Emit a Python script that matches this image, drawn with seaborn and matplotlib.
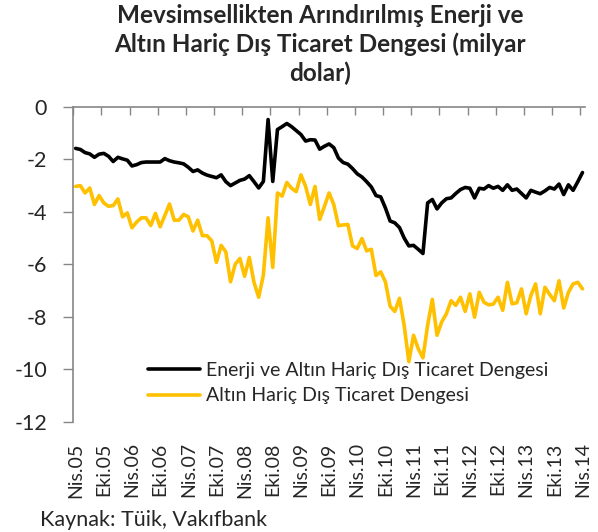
import numpy as np
import pandas as pd
import seaborn as sns
import matplotlib
matplotlib.use("Agg")
import matplotlib.pyplot as plt

# monthly data, Nis.05 - Nis.14 (milyar dolar)
months = pd.period_range("2005-04", "2014-04", freq="M")

enerji_altin_haric = [
    -1.58, -1.62, -1.74, -1.79, -1.92, -1.80, -1.77, -1.88, -2.08, -1.92,
    -1.98, -2.03, -2.25, -2.20, -2.12, -2.10, -2.10, -2.10, -2.10, -1.97,
    -2.05, -2.10, -2.13, -2.17, -2.30, -2.46, -2.40, -2.52, -2.60, -2.65,
    -2.70, -2.59, -2.85, -3.00, -2.90, -2.80, -2.75, -2.62, -2.85, -3.09,
    -2.84, -0.48, -2.84, -0.86, -0.75, -0.63, -0.75, -0.90, -1.05, -1.30,
    -1.25, -1.26, -1.61, -1.50, -1.41, -1.55, -1.95, -2.12, -2.18, -2.35,
    -2.55, -2.67, -2.85, -3.05, -3.38, -3.43, -3.85, -4.35, -4.42, -4.60,
    -5.00, -5.30, -5.28, -5.43, -5.59, -3.66, -3.53, -3.89, -3.66, -3.50,
    -3.47, -3.30, -3.15, -3.07, -3.10, -3.47, -3.10, -3.13, -3.00, -3.10,
    -3.03, -3.18, -2.97, -3.18, -3.13, -3.30, -3.47, -3.18, -3.25, -3.31,
    -3.20, -3.07, -3.13, -2.94, -3.34, -2.97, -3.18, -2.85, -2.50,
]

altin_haric = [
    -3.03, -3.00, -3.28, -3.09, -3.72, -3.38, -3.66, -3.79, -3.76, -3.51,
    -4.19, -4.04, -4.61, -4.39, -4.23, -4.23, -4.52, -4.06, -4.57, -4.14,
    -3.70, -4.32, -4.32, -4.10, -4.19, -4.73, -4.32, -4.91, -4.91, -5.11,
    -5.93, -5.28, -5.53, -6.67, -6.00, -5.78, -6.46, -5.74, -6.69, -7.26,
    -6.41, -4.23, -6.12, -3.28, -3.40, -2.88, -3.10, -3.23, -2.59, -3.03,
    -3.72, -3.03, -4.29, -3.80, -3.28, -3.72, -4.53, -4.50, -4.48, -5.30,
    -5.40, -5.02, -5.49, -5.43, -6.43, -6.29, -6.67, -7.60, -7.80, -7.30,
    -8.33, -9.72, -8.71, -9.22, -9.57, -8.33, -7.34, -8.71, -8.20, -7.89,
    -7.39, -7.57, -7.26, -7.80, -7.13, -8.02, -7.07, -7.45, -7.55, -7.52,
    -7.26, -7.76, -6.69, -7.51, -7.47, -6.94, -7.89, -7.19, -6.75, -7.89,
    -6.88, -7.15, -7.39, -6.63, -7.67, -7.07, -6.75, -6.69, -6.94,
]

ay_adlari = {4: "Nis", 10: "Eki"}
labels = [f"{ay_adlari.get(m.month, '')}.{m.year % 100:02d}" for m in months]

sns.set_style("white")
plt.rcParams["font.family"] = ["Lato", "DejaVu Sans"]

df = pd.DataFrame({
    "t": np.arange(len(months)),
    "Enerji ve Altın Hariç Dış Ticaret Dengesi": enerji_altin_haric,
    "Altın Hariç Dış Ticaret Dengesi": altin_haric,
})

fig = plt.figure(figsize=(5.98, 5.32), dpi=100)
ax = fig.add_axes([0.1226, 0.2077, 0.978 - 0.1226, 0.7989 - 0.2077])

sns.lineplot(data=df, x="t", y="Enerji ve Altın Hariç Dış Ticaret Dengesi", color="black",
             linewidth=2.6, ax=ax, label="Enerji ve Altın Hariç Dış Ticaret Dengesi")
sns.lineplot(data=df, x="t", y="Altın Hariç Dış Ticaret Dengesi", color="#FFC000",
             linewidth=2.6, ax=ax, label="Altın Hariç Dış Ticaret Dengesi")

ax.set_xlim(-0.5, len(months) - 0.5)
ax.set_ylim(-12, 0)
ax.set_yticks(range(-12, 1, 2))
ax.set_yticklabels([str(v) for v in range(-12, 1, 2)], fontsize=15.5)

pos = np.arange(0, len(months), 6)
ax.set_xticks(pos)
ax.set_xticklabels([labels[p] for p in pos], rotation=90, fontsize=14)
ax.set_xticks(pos - 0.5, minor=True)
ax.tick_params(axis="x", which="major", length=0, pad=15, bottom=True, top=False)
ax.tick_params(axis="x", which="minor", length=6, width=1, color="#868686",
               direction="in", top=True, bottom=False)
ax.tick_params(axis="y", length=7, width=1, color="#868686", direction="out", left=True, pad=12)
ax.set_xlabel("")
ax.set_ylabel("")

for s in ["right", "bottom"]:
    ax.spines[s].set_visible(False)
for s in ["top", "left"]:
    ax.spines[s].set_color("#868686")
    ax.spines[s].set_linewidth(1.2)

ax.legend(loc="upper left", bbox_to_anchor=(0.13, 0.215), frameon=False, fontsize=14,
          handlelength=2.7, handletextpad=0.3, labelspacing=0.45, borderaxespad=0)

fig.text(0.535, 0.993, "Mevsimsellikten Arındırılmış Enerji ve\nAltın Hariç Dış Ticaret Dengesi (milyar\ndolar)",
         ha="center", va="top", fontsize=17.5, fontweight="bold", linespacing=1.28)
fig.text(0.067, 0.012, "Kaynak: Tüik, Vakıfbank", fontsize=15.5)

fig.savefig("out.png", dpi=100)
